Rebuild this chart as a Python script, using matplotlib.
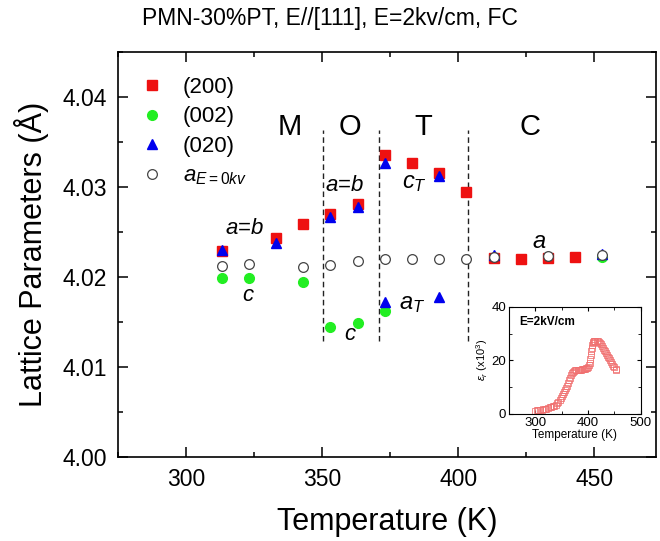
import numpy as np
import matplotlib
matplotlib.use("Agg")
import matplotlib.pyplot as plt
from matplotlib.lines import Line2D
from matplotlib.ticker import MultipleLocator

plt.rcParams['font.family'] = ['Liberation Sans', 'DejaVu Sans']
plt.rcParams['mathtext.fontset'] = 'custom'
plt.rcParams['mathtext.it'] = 'Liberation Sans:italic'
plt.rcParams['mathtext.rm'] = 'Liberation Sans'

# (200) reflections
T_200 = [313, 333, 343, 353, 363, 373, 383, 393, 403, 413, 423, 433, 443]
a_200 = [4.0229, 4.0243, 4.0259, 4.0270, 4.0281, 4.0335, 4.0326, 4.0315,
         4.0294, 4.0221, 4.0220, 4.0221, 4.0222]

# (002) reflections
T_002 = [313, 323, 343, 353, 363, 373, 453]
c_002 = [4.0199, 4.0199, 4.0194, 4.0144, 4.0149, 4.0162, 4.0222]

# (020) reflections
T_020 = [313, 333, 353, 363, 373, 393, 373, 393, 413, 453]
b_020 = [4.0230, 4.0237, 4.0266, 4.0278, 4.0327, 4.0312, 4.0172, 4.0177,
         4.0224, 4.0225]

# a at E = 0
T_0 = [313, 323, 343, 353, 363, 373, 383, 393, 403, 413, 433, 453]
a_0 = [4.0212, 4.0214, 4.0211, 4.0213, 4.0217, 4.0220, 4.0220, 4.0220,
       4.0220, 4.0222, 4.0223, 4.0224]

# phase boundaries
T_bound = [350.3, 371.0, 403.6]

# inset: dielectric constant
T_eps = [300, 303, 306, 309, 312, 315, 318, 321, 324, 327, 330, 333, 336,
         339, 342, 344, 346, 348, 350, 352, 354, 356, 358, 360, 362, 364,
         366, 368, 370, 372, 374, 376, 378, 380, 382, 384, 386, 388, 390,
         392, 394, 396, 398, 400, 402, 403, 404, 405, 406, 407, 408, 409,
         410, 411, 412, 414, 416, 418, 420, 422, 424, 426, 428, 430, 432,
         434, 436, 438, 440, 442, 444, 446, 448, 450, 452, 453]
eps = [1.2, 1.3, 1.4, 1.5, 1.6, 1.8, 1.9, 2.0, 2.2, 2.4, 2.6, 2.8, 3.0,
       3.3, 3.9, 4.5, 5.2, 6.0, 6.8, 7.5, 8.2, 9.0, 9.8, 10.5, 11.5, 12.5,
       13.5, 14.5, 15.2, 15.8, 16.1, 16.3, 16.4, 16.5, 16.5, 16.5, 16.5,
       16.6, 16.7, 16.8, 16.9, 17.0, 17.2, 17.5, 18.2, 19.0, 20.5, 22.0,
       23.3, 24.5, 25.6, 26.5, 27.0, 27.2, 27.3, 27.3, 27.3, 27.2, 26.8,
       26.4, 26.0, 25.4, 24.7, 24.0, 23.4, 22.7, 22.0, 21.4, 20.7, 20.0,
       19.4, 18.7, 18.0, 17.4, 16.8, 16.5]

fig = plt.figure(figsize=(6.6, 5.41), dpi=100)
ax = fig.add_axes([0.179, 0.156, 0.815, 0.748])

ax.plot(T_200, a_200, 's', color='#ee1111', ms=6.5, mec='#ee1111', zorder=3)
ax.plot(T_002, c_002, 'o', color='#22ee22', ms=7, mec='#22ee22', zorder=4)
ax.plot(T_020, b_020, '^', color='#0000ee', ms=7.5, mec='#0000ee', zorder=5)
ax.plot(T_0, a_0, 'o', mfc='white', mec='#444444', mew=0.9, ms=7, zorder=6)

for tb in T_bound:
    ax.plot([tb, tb], [4.0128, 4.0363], color='#222222', lw=1,
            dashes=(4, 2.5), zorder=2)

ax.set_xlim(275, 472.7)
ax.set_ylim(4.00, 4.045)
ax.xaxis.set_major_locator(MultipleLocator(50))
ax.xaxis.set_minor_locator(MultipleLocator(25))
ax.yaxis.set_major_locator(MultipleLocator(0.01))
ax.yaxis.set_minor_locator(MultipleLocator(0.005))
ax.yaxis.set_major_formatter(matplotlib.ticker.FormatStrFormatter('%.2f'))
ax.tick_params(which='both', direction='in', top=True, right=True,
               labelsize=16.5, width=1.1)
ax.tick_params(which='major', length=7, pad=8)
ax.tick_params(which='minor', length=3.5)
for s in ax.spines.values():
    s.set_linewidth(1.2)

ax.set_xlabel('Temperature (K)', fontsize=22, labelpad=12)
ax.set_ylabel('Lattice Parameters (Å)', fontsize=22, labelpad=10)
fig.text(0.5, 1 - 18 / 541, 'PMN-30%PT, E//[111], E=2kv/cm, FC',
         ha='center', va='center', fontsize=16.5)

# phase labels
for lab, tx in zip(['M', 'O', 'T', 'C'], [338, 360.2, 387, 426.3]):
    ax.text(tx, 4.0367, lab, fontsize=21, ha='center', va='center')

ax.text(321.6, 4.0254, '$a$=$b$', fontsize=16, ha='center', va='center')
ax.text(322.8, 4.0179, '$c$', fontsize=16, ha='center', va='center')
ax.text(358.3, 4.0302, '$a$=$b$', fontsize=16, ha='center', va='center')
ax.text(360.2, 4.0136, '$c$', fontsize=16, ha='center', va='center')
ax.text(384, 4.0304, '$c_T$', fontsize=17, ha='center', va='center')
ax.text(383, 4.0170, '$a_T$', fontsize=17, ha='center', va='center')
ax.text(429.8, 4.0239, '$a$', fontsize=17, ha='center', va='center')

handles = [
    Line2D([], [], ls='none', marker='s', color='#ee1111', ms=6.5),
    Line2D([], [], ls='none', marker='o', color='#22ee22', ms=7),
    Line2D([], [], ls='none', marker='^', color='#0000ee', ms=7.5),
    Line2D([], [], ls='none', marker='o', mfc='white', mec='#444444',
           mew=0.9, ms=7),
]
labels = ['(200)', '(002)', '(020)', '$a_{E=0kv}$']
ax.legend(handles, labels, loc='upper left', bbox_to_anchor=(0.025, 0.96),
          frameon=False, fontsize=16, handletextpad=0.9, labelspacing=0.38,
          handlelength=1.0, borderaxespad=0)

# inset
ins = fig.add_axes([0.771, 0.235, 0.200, 0.198])
ins.plot(T_eps, eps, 's', mfc='none', mec='#f07070', mew=0.7, ms=4,
         alpha=0.8)
ins.set_xlim(250, 500)
ins.set_ylim(0, 40)
ins.xaxis.set_major_locator(MultipleLocator(100))
ins.xaxis.set_minor_locator(MultipleLocator(50))
ins.yaxis.set_major_locator(MultipleLocator(20))
ins.yaxis.set_minor_locator(MultipleLocator(10))
ins.tick_params(which='both', direction='in', top=True, right=True,
                labelsize=9.5, pad=2)
ins.tick_params(which='major', length=3)
ins.tick_params(which='minor', length=2)
ins.set_xlabel('Temperature (K)', fontsize=8.5, labelpad=0)
ins.set_ylabel(r'$\varepsilon_r$ (x10$^3$)', fontsize=8, labelpad=1)
ins.text(0.08, 0.83, 'E=2kV/cm', transform=ins.transAxes, fontsize=8.5,
         fontweight='bold')

fig.savefig('out.png', dpi=100)
